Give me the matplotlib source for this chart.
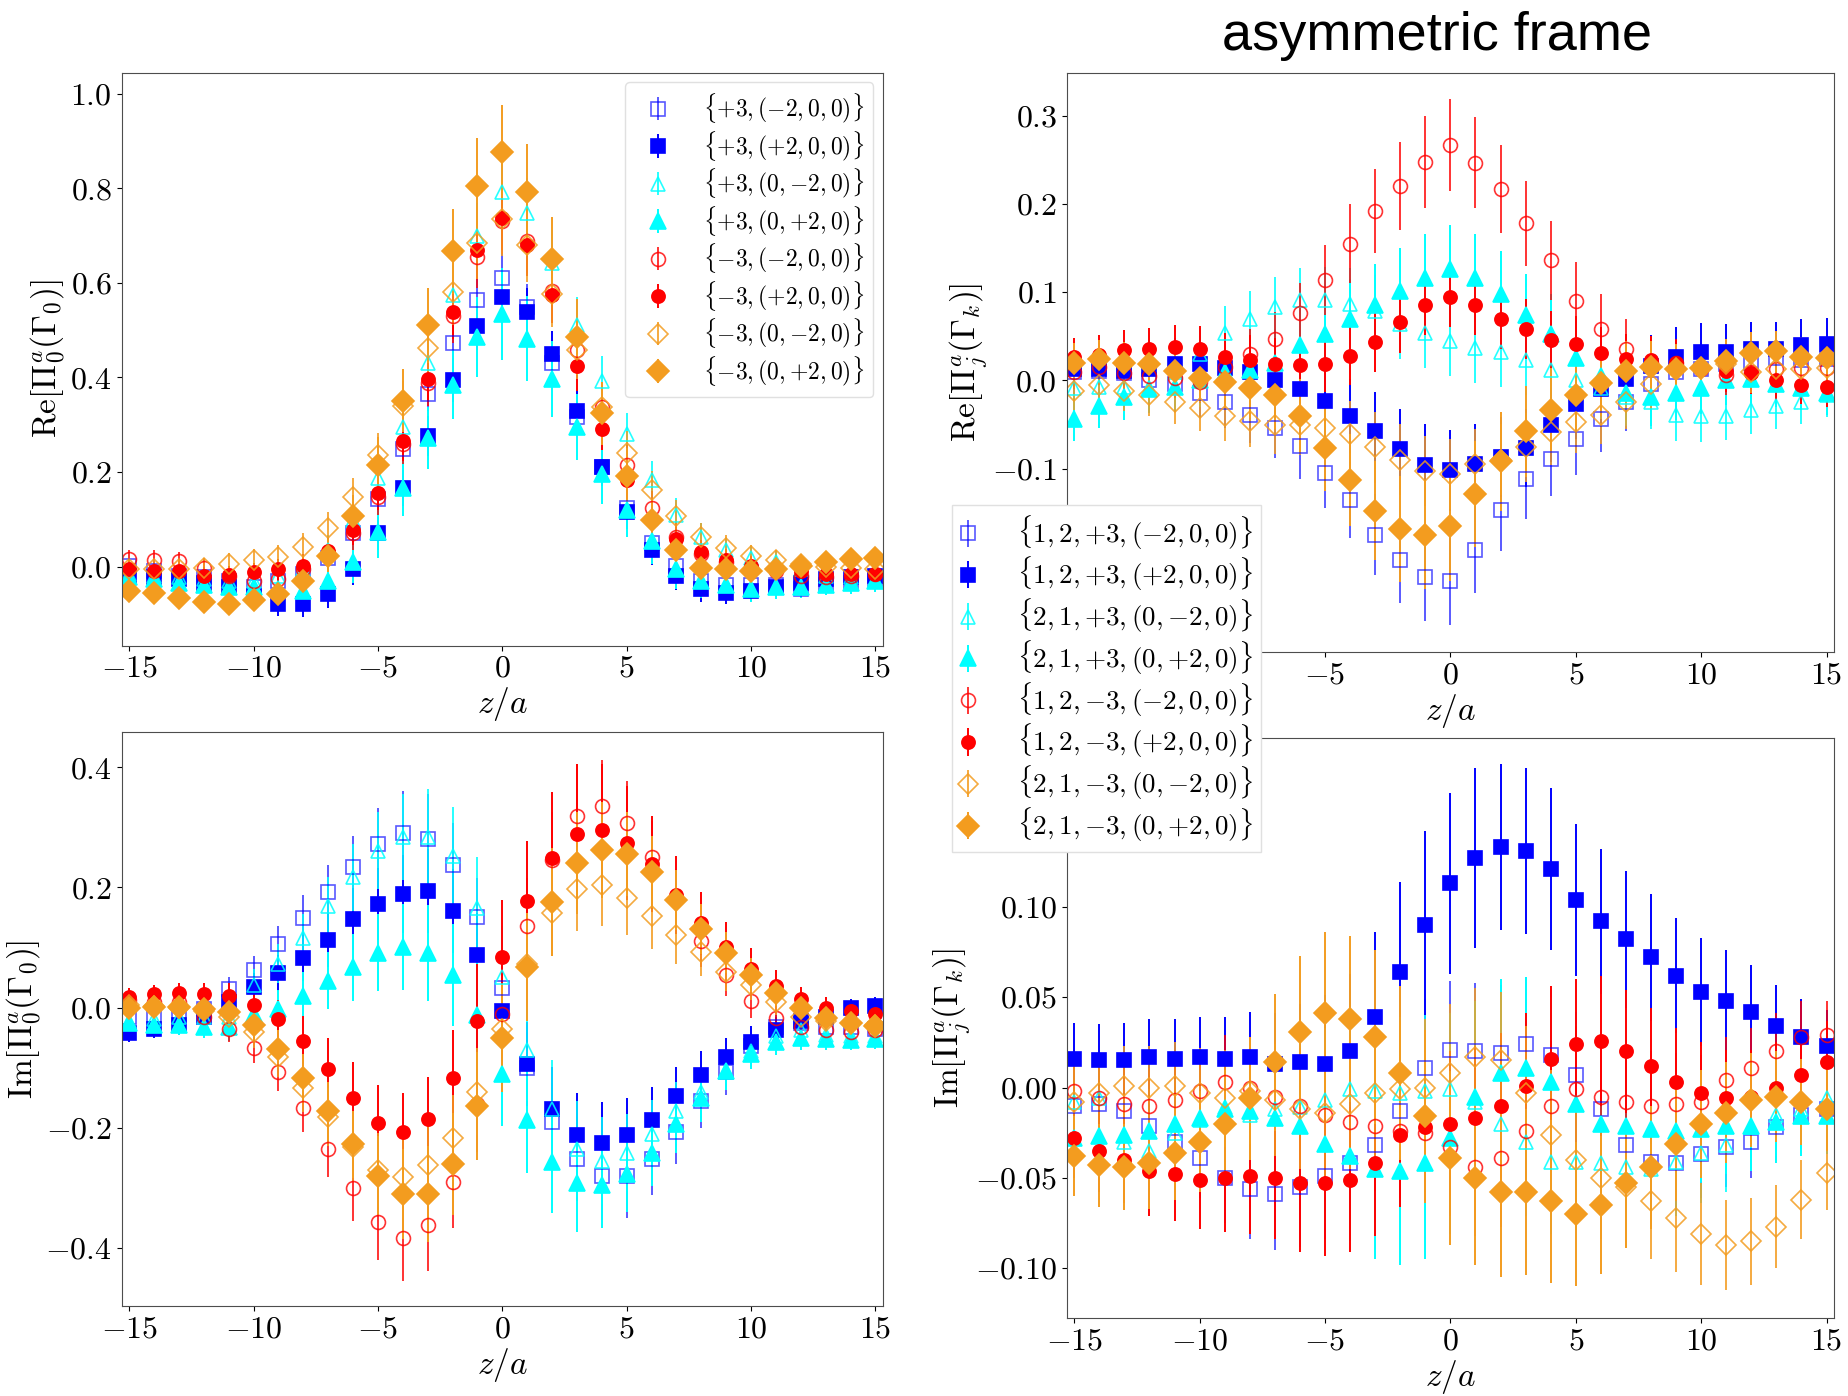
"""Four-panel quasi-PDF matrix element plot, symmetric vs asymmetric frame."""

import matplotlib
matplotlib.use("Agg")
import matplotlib.pyplot as plt
from matplotlib.ticker import MultipleLocator

plt.rcParams["font.family"] = "serif"
plt.rcParams["font.serif"] = ["cmr10"]
plt.rcParams["mathtext.fontset"] = "cm"
plt.rcParams["axes.formatter.use_mathtext"] = True

z = list(range(-15, 16))

labels_sym = [
    r"$\{{+}3,({-}2,0,0)\}$", r"$\{{+}3,({+}2,0,0)\}$",
    r"$\{{+}3,(0,{-}2,0)\}$", r"$\{{+}3,(0,{+}2,0)\}$",
    r"$\{{-}3,({-}2,0,0)\}$", r"$\{{-}3,({+}2,0,0)\}$",
    r"$\{{-}3,(0,{-}2,0)\}$", r"$\{{-}3,(0,{+}2,0)\}$",
]
labels_asym = [
    r"$\{1,2,{+}3,({-}2,0,0)\}$", r"$\{1,2,{+}3,({+}2,0,0)\}$",
    r"$\{2,1,{+}3,(0,{-}2,0)\}$", r"$\{2,1,{+}3,(0,{+}2,0)\}$",
    r"$\{1,2,{-}3,({-}2,0,0)\}$", r"$\{1,2,{-}3,({+}2,0,0)\}$",
    r"$\{2,1,{-}3,(0,{-}2,0)\}$", r"$\{2,1,{-}3,(0,{+}2,0)\}$",
]

# Re[Pi_0(Gamma_0)]  (top left)
re0_1 = [0.002, -0.010, -0.019, -0.023, -0.031, -0.043, -0.031, -0.015, 0.018, 0.070, 0.143, 0.248, 0.365, 0.472, 0.563, 0.611, 0.550, 0.430, 0.316, 0.211, 0.123, 0.050, 0.002, -0.031, -0.039, -0.039, -0.040, -0.047, -0.039, -0.035, -0.027]
re0_2 = [-0.019, -0.023, -0.027, -0.035, -0.043, -0.063, -0.079, -0.079, -0.057, -0.006, 0.070, 0.167, 0.276, 0.395, 0.508, 0.571, 0.538, 0.450, 0.330, 0.211, 0.116, 0.036, -0.019, -0.047, -0.055, -0.051, -0.043, -0.035, -0.027, -0.023, -0.019]
re0_3 = [-0.015, -0.019, -0.023, -0.027, -0.031, -0.031, -0.019, -0.006, 0.034, 0.098, 0.187, 0.296, 0.430, 0.575, 0.700, 0.793, 0.748, 0.643, 0.510, 0.393, 0.280, 0.183, 0.110, 0.062, 0.034, 0.018, 0.010, -0.006, -0.019, -0.023, -0.027]
re0_4 = [-0.023, -0.027, -0.035, -0.039, -0.043, -0.043, -0.047, -0.051, -0.031, 0.010, 0.074, 0.167, 0.272, 0.385, 0.486, 0.534, 0.482, 0.397, 0.296, 0.195, 0.119, 0.054, -0.006, -0.031, -0.039, -0.047, -0.043, -0.043, -0.039, -0.035, -0.031]
re0_5 = [0.015, 0.014, 0.011, -0.002, -0.019, -0.031, -0.027, -0.006, 0.026, 0.070, 0.147, 0.260, 0.389, 0.530, 0.655, 0.732, 0.688, 0.583, 0.458, 0.337, 0.215, 0.123, 0.062, 0.026, 0.010, -0.002, -0.010, -0.019, -0.023, -0.019, -0.015]
re0_6 = [-0.006, -0.009, -0.010, -0.019, -0.017, -0.012, -0.006, 0.002, 0.032, 0.078, 0.155, 0.266, 0.397, 0.538, 0.670, 0.738, 0.680, 0.575, 0.425, 0.292, 0.183, 0.098, 0.058, 0.030, 0.014, 0.002, -0.006, -0.010, -0.015, -0.015, -0.015]
re0_7 = [-0.006, -0.006, -0.006, -0.002, 0.006, 0.014, 0.020, 0.042, 0.082, 0.147, 0.236, 0.340, 0.462, 0.580, 0.685, 0.736, 0.680, 0.577, 0.458, 0.337, 0.240, 0.163, 0.107, 0.062, 0.040, 0.022, 0.014, 0.006, 0.000, -0.002, -0.006]
re0_8 = [-0.051, -0.055, -0.067, -0.075, -0.079, -0.071, -0.057, -0.031, 0.023, 0.107, 0.215, 0.351, 0.510, 0.667, 0.806, 0.877, 0.793, 0.650, 0.486, 0.324, 0.191, 0.098, 0.036, -0.002, -0.006, -0.009, -0.006, 0.002, 0.010, 0.015, 0.019]

re0_e1 = [0.015, 0.015, 0.015, 0.015, 0.016, 0.018, 0.020, 0.020, 0.022, 0.025, 0.028, 0.032, 0.036, 0.040, 0.045, 0.050, 0.048, 0.044, 0.040, 0.036, 0.032, 0.028, 0.025, 0.022, 0.020, 0.018, 0.017, 0.016, 0.015, 0.015, 0.015]
re0_e2 = [0.018, 0.018, 0.018, 0.018, 0.020, 0.022, 0.025, 0.028, 0.030, 0.032, 0.035, 0.038, 0.042, 0.046, 0.050, 0.055, 0.052, 0.048, 0.044, 0.040, 0.036, 0.032, 0.030, 0.028, 0.025, 0.022, 0.020, 0.020, 0.018, 0.018, 0.018]
re0_e3 = [0.020, 0.020, 0.020, 0.020, 0.020, 0.022, 0.025, 0.028, 0.032, 0.036, 0.040, 0.045, 0.052, 0.060, 0.070, 0.080, 0.075, 0.068, 0.060, 0.052, 0.045, 0.040, 0.035, 0.030, 0.027, 0.025, 0.022, 0.020, 0.020, 0.020, 0.020]
re0_e4 = [0.022, 0.022, 0.022, 0.024, 0.026, 0.028, 0.030, 0.035, 0.040, 0.045, 0.056, 0.060, 0.065, 0.073, 0.085, 0.097, 0.090, 0.080, 0.070, 0.062, 0.056, 0.048, 0.042, 0.036, 0.032, 0.028, 0.026, 0.024, 0.022, 0.022, 0.022]
re0_e5 = [0.020, 0.020, 0.020, 0.020, 0.020, 0.022, 0.024, 0.026, 0.030, 0.034, 0.038, 0.044, 0.050, 0.058, 0.065, 0.070, 0.068, 0.062, 0.055, 0.048, 0.042, 0.036, 0.032, 0.028, 0.025, 0.023, 0.022, 0.020, 0.020, 0.020, 0.020]
re0_e6 = [0.018, 0.018, 0.018, 0.018, 0.018, 0.020, 0.022, 0.025, 0.028, 0.032, 0.036, 0.042, 0.048, 0.056, 0.062, 0.068, 0.066, 0.060, 0.053, 0.046, 0.040, 0.034, 0.030, 0.026, 0.023, 0.021, 0.020, 0.018, 0.018, 0.018, 0.018]
re0_e7 = [0.020, 0.020, 0.020, 0.020, 0.022, 0.024, 0.026, 0.030, 0.034, 0.040, 0.046, 0.052, 0.060, 0.068, 0.076, 0.080, 0.078, 0.070, 0.062, 0.054, 0.046, 0.040, 0.034, 0.030, 0.026, 0.024, 0.022, 0.020, 0.020, 0.020, 0.020]
re0_e8 = [0.020, 0.020, 0.020, 0.020, 0.022, 0.024, 0.026, 0.030, 0.035, 0.045, 0.060, 0.066, 0.080, 0.090, 0.100, 0.100, 0.100, 0.090, 0.080, 0.066, 0.060, 0.045, 0.035, 0.030, 0.026, 0.024, 0.022, 0.020, 0.020, 0.020, 0.020]

# Re[Pi_j(Gamma_k)]  (top right)
rej_1 = [0.010, 0.011, 0.008, 0.000, -0.004, -0.014, -0.024, -0.039, -0.054, -0.075, -0.105, -0.136, -0.175, -0.204, -0.223, -0.227, -0.192, -0.147, -0.112, -0.089, -0.067, -0.044, -0.024, -0.004, 0.010, 0.013, 0.018, 0.020, 0.025, 0.023, 0.024]
rej_2 = [0.013, 0.013, 0.011, 0.013, 0.018, 0.019, 0.014, 0.010, 0.000, -0.010, -0.023, -0.040, -0.057, -0.078, -0.096, -0.102, -0.095, -0.087, -0.077, -0.051, -0.027, -0.010, 0.001, 0.016, 0.027, 0.032, 0.032, 0.035, 0.036, 0.040, 0.041]
rej_3 = [-0.009, -0.007, -0.008, -0.009, 0.010, 0.030, 0.054, 0.069, 0.083, 0.091, 0.091, 0.087, 0.079, 0.064, 0.054, 0.045, 0.037, 0.032, 0.023, 0.012, 0.000, -0.009, -0.019, -0.024, -0.039, -0.041, -0.040, -0.034, -0.029, -0.024, -0.017]
rej_4 = [-0.044, -0.029, -0.019, -0.010, -0.008, 0.000, 0.010, 0.012, 0.020, 0.040, 0.053, 0.070, 0.085, 0.101, 0.116, 0.126, 0.116, 0.098, 0.074, 0.053, 0.025, 0.005, -0.014, -0.019, -0.014, -0.009, 0.000, 0.001, -0.004, -0.009, -0.014]
rej_5 = [0.010, 0.015, 0.008, 0.005, 0.003, -0.002, 0.015, 0.030, 0.047, 0.076, 0.114, 0.155, 0.192, 0.220, 0.248, 0.267, 0.247, 0.217, 0.178, 0.136, 0.090, 0.058, 0.036, 0.020, 0.020, 0.013, 0.006, 0.010, 0.013, 0.014, 0.014]
rej_6 = [0.026, 0.029, 0.034, 0.035, 0.038, 0.036, 0.027, 0.023, 0.019, 0.017, 0.019, 0.028, 0.044, 0.066, 0.086, 0.095, 0.086, 0.070, 0.058, 0.046, 0.041, 0.031, 0.024, 0.023, 0.020, 0.014, 0.011, 0.008, 0.000, -0.005, -0.008]
rej_7 = [-0.012, -0.005, -0.012, -0.017, -0.024, -0.031, -0.041, -0.046, -0.051, -0.051, -0.054, -0.061, -0.076, -0.090, -0.103, -0.106, -0.095, -0.090, -0.076, -0.059, -0.047, -0.039, -0.024, -0.004, 0.013, 0.014, 0.018, 0.010, 0.013, 0.013, 0.014]
rej_8 = [0.020, 0.024, 0.020, 0.018, 0.011, 0.003, -0.002, -0.009, -0.017, -0.041, -0.077, -0.113, -0.148, -0.169, -0.175, -0.165, -0.129, -0.092, -0.058, -0.034, -0.017, -0.003, 0.011, 0.015, 0.013, 0.014, 0.022, 0.031, 0.033, 0.027, 0.025]

rej_e1 = [0.025, 0.025, 0.025, 0.026, 0.027, 0.028, 0.030, 0.032, 0.034, 0.037, 0.040, 0.043, 0.046, 0.048, 0.050, 0.050, 0.049, 0.047, 0.045, 0.042, 0.040, 0.037, 0.034, 0.032, 0.030, 0.029, 0.028, 0.027, 0.026, 0.025, 0.025]
rej_e2 = [0.028, 0.028, 0.028, 0.029, 0.030, 0.031, 0.032, 0.034, 0.036, 0.038, 0.040, 0.042, 0.044, 0.045, 0.046, 0.046, 0.046, 0.045, 0.044, 0.042, 0.040, 0.038, 0.036, 0.035, 0.034, 0.033, 0.032, 0.031, 0.030, 0.030, 0.030]
rej_e3 = [0.025, 0.025, 0.026, 0.027, 0.028, 0.029, 0.030, 0.032, 0.034, 0.036, 0.038, 0.040, 0.040, 0.040, 0.040, 0.040, 0.040, 0.040, 0.040, 0.039, 0.037, 0.035, 0.033, 0.031, 0.030, 0.029, 0.028, 0.027, 0.026, 0.025, 0.025]
rej_e4 = [0.025, 0.025, 0.026, 0.027, 0.028, 0.030, 0.032, 0.035, 0.038, 0.040, 0.043, 0.045, 0.047, 0.049, 0.050, 0.050, 0.050, 0.049, 0.047, 0.045, 0.042, 0.039, 0.036, 0.033, 0.031, 0.029, 0.028, 0.027, 0.026, 0.025, 0.025]
rej_e5 = [0.020, 0.020, 0.021, 0.022, 0.023, 0.024, 0.026, 0.028, 0.031, 0.034, 0.040, 0.045, 0.048, 0.050, 0.052, 0.052, 0.052, 0.050, 0.048, 0.045, 0.044, 0.040, 0.034, 0.030, 0.027, 0.025, 0.023, 0.022, 0.021, 0.020, 0.020]
rej_e6 = [0.022, 0.022, 0.023, 0.024, 0.025, 0.026, 0.027, 0.028, 0.029, 0.030, 0.032, 0.033, 0.034, 0.035, 0.035, 0.035, 0.035, 0.035, 0.034, 0.033, 0.032, 0.030, 0.028, 0.027, 0.026, 0.025, 0.024, 0.023, 0.022, 0.022, 0.022]
rej_e7 = [0.022, 0.022, 0.023, 0.024, 0.025, 0.026, 0.028, 0.030, 0.032, 0.034, 0.036, 0.038, 0.040, 0.040, 0.040, 0.040, 0.040, 0.040, 0.039, 0.037, 0.035, 0.033, 0.031, 0.029, 0.027, 0.026, 0.025, 0.024, 0.023, 0.022, 0.022]
rej_e8 = [0.022, 0.022, 0.023, 0.024, 0.025, 0.027, 0.030, 0.034, 0.038, 0.043, 0.048, 0.052, 0.056, 0.060, 0.062, 0.062, 0.060, 0.056, 0.052, 0.048, 0.043, 0.038, 0.034, 0.030, 0.028, 0.026, 0.025, 0.024, 0.023, 0.022, 0.022]

# Im[Pi_0(Gamma_0)]  (bottom left)
im0_1 = [-0.016, -0.013, -0.011, -0.003, 0.031, 0.062, 0.105, 0.149, 0.193, 0.234, 0.272, 0.291, 0.281, 0.237, 0.150, 0.033, -0.100, -0.190, -0.252, -0.280, -0.280, -0.252, -0.208, -0.156, -0.108, -0.064, -0.032, -0.026, -0.032, -0.033, -0.035]
im0_2 = [-0.043, -0.035, -0.029, -0.016, 0.010, 0.034, 0.057, 0.082, 0.112, 0.147, 0.172, 0.189, 0.194, 0.161, 0.088, -0.005, -0.094, -0.169, -0.212, -0.226, -0.212, -0.187, -0.147, -0.113, -0.083, -0.057, -0.038, -0.022, -0.016, -0.001, 0.003]
im0_3 = [-0.022, -0.019, -0.016, -0.016, -0.016, 0.038, 0.073, 0.116, 0.169, 0.217, 0.261, 0.284, 0.284, 0.252, 0.166, 0.051, -0.070, -0.169, -0.236, -0.255, -0.242, -0.210, -0.172, -0.140, -0.105, -0.073, -0.048, -0.038, -0.045, -0.048, -0.048]
im0_4 = [-0.026, -0.029, -0.029, -0.032, -0.033, -0.010, -0.003, 0.019, 0.045, 0.067, 0.091, 0.101, 0.091, 0.054, -0.013, -0.110, -0.188, -0.258, -0.293, -0.296, -0.277, -0.242, -0.194, -0.150, -0.105, -0.077, -0.057, -0.051, -0.053, -0.054, -0.053]
im0_5 = [0.013, 0.010, 0.010, -0.016, -0.035, -0.067, -0.107, -0.167, -0.235, -0.300, -0.357, -0.383, -0.363, -0.290, -0.160, -0.011, 0.135, 0.245, 0.319, 0.336, 0.307, 0.250, 0.180, 0.110, 0.054, 0.011, -0.018, -0.032, -0.038, -0.041, -0.038]
im0_6 = [0.017, 0.022, 0.024, 0.022, 0.019, 0.005, -0.019, -0.056, -0.102, -0.150, -0.193, -0.207, -0.186, -0.118, -0.022, 0.084, 0.177, 0.249, 0.289, 0.295, 0.274, 0.239, 0.188, 0.140, 0.100, 0.065, 0.036, 0.014, 0.000, -0.006, -0.010]
im0_7 = [0.005, 0.003, 0.000, -0.006, -0.016, -0.041, -0.083, -0.134, -0.182, -0.233, -0.271, -0.282, -0.263, -0.218, -0.140, -0.035, 0.073, 0.157, 0.198, 0.204, 0.183, 0.153, 0.121, 0.092, 0.059, 0.038, 0.010, -0.016, -0.022, -0.026, -0.029]
im0_8 = [0.000, 0.001, 0.001, -0.003, -0.008, -0.029, -0.069, -0.118, -0.172, -0.228, -0.280, -0.311, -0.311, -0.261, -0.164, -0.051, 0.067, 0.175, 0.240, 0.263, 0.255, 0.226, 0.179, 0.131, 0.091, 0.054, 0.024, -0.001, -0.018, -0.026, -0.031]

im0_e1 = [0.015, 0.015, 0.016, 0.018, 0.020, 0.024, 0.030, 0.038, 0.045, 0.052, 0.060, 0.070, 0.074, 0.070, 0.065, 0.060, 0.060, 0.065, 0.070, 0.074, 0.070, 0.060, 0.052, 0.045, 0.038, 0.030, 0.024, 0.020, 0.018, 0.016, 0.015]
im0_e2 = [0.015, 0.015, 0.016, 0.018, 0.020, 0.024, 0.030, 0.038, 0.045, 0.052, 0.060, 0.065, 0.070, 0.070, 0.070, 0.070, 0.070, 0.070, 0.070, 0.068, 0.062, 0.055, 0.048, 0.040, 0.032, 0.026, 0.022, 0.020, 0.018, 0.016, 0.015]
im0_e3 = [0.016, 0.016, 0.017, 0.019, 0.022, 0.026, 0.032, 0.040, 0.048, 0.056, 0.064, 0.072, 0.080, 0.082, 0.085, 0.085, 0.085, 0.082, 0.080, 0.072, 0.064, 0.056, 0.048, 0.040, 0.032, 0.026, 0.022, 0.019, 0.017, 0.016, 0.016]
im0_e4 = [0.016, 0.016, 0.017, 0.019, 0.022, 0.026, 0.032, 0.040, 0.048, 0.056, 0.064, 0.072, 0.080, 0.085, 0.088, 0.088, 0.088, 0.085, 0.080, 0.072, 0.064, 0.056, 0.048, 0.040, 0.032, 0.026, 0.022, 0.019, 0.017, 0.016, 0.016]
im0_e5 = [0.016, 0.016, 0.017, 0.019, 0.022, 0.026, 0.032, 0.040, 0.048, 0.056, 0.064, 0.072, 0.075, 0.078, 0.080, 0.080, 0.080, 0.080, 0.086, 0.077, 0.070, 0.060, 0.050, 0.042, 0.034, 0.028, 0.022, 0.019, 0.017, 0.016, 0.016]
im0_e6 = [0.016, 0.016, 0.017, 0.019, 0.022, 0.026, 0.032, 0.042, 0.052, 0.060, 0.064, 0.064, 0.070, 0.080, 0.095, 0.095, 0.100, 0.110, 0.116, 0.110, 0.095, 0.080, 0.065, 0.052, 0.042, 0.034, 0.026, 0.020, 0.018, 0.016, 0.016]
im0_e7 = [0.016, 0.016, 0.017, 0.019, 0.022, 0.026, 0.032, 0.040, 0.048, 0.056, 0.062, 0.068, 0.070, 0.072, 0.072, 0.072, 0.072, 0.072, 0.070, 0.068, 0.062, 0.056, 0.048, 0.040, 0.032, 0.026, 0.022, 0.019, 0.017, 0.016, 0.016]
im0_e8 = [0.016, 0.016, 0.017, 0.019, 0.022, 0.026, 0.032, 0.040, 0.048, 0.056, 0.066, 0.075, 0.080, 0.085, 0.090, 0.090, 0.090, 0.090, 0.085, 0.080, 0.070, 0.060, 0.050, 0.042, 0.034, 0.028, 0.022, 0.019, 0.017, 0.016, 0.016]

# Im[Pi_j(Gamma_k)]  (bottom right)
imj_1 = [-0.010, -0.009, -0.013, -0.021, -0.030, -0.039, -0.050, -0.056, -0.059, -0.055, -0.049, -0.042, -0.032, -0.013, 0.011, 0.021, 0.020, 0.019, 0.024, 0.018, 0.007, -0.012, -0.032, -0.041, -0.042, -0.037, -0.033, -0.030, -0.022, -0.015, -0.012]
imj_2 = [0.016, 0.015, 0.015, 0.017, 0.016, 0.017, 0.016, 0.017, 0.013, 0.014, 0.013, 0.020, 0.039, 0.064, 0.090, 0.113, 0.127, 0.133, 0.131, 0.121, 0.104, 0.092, 0.082, 0.072, 0.062, 0.053, 0.048, 0.042, 0.034, 0.028, 0.023]
imj_3 = [-0.008, -0.006, -0.030, -0.035, -0.025, -0.018, -0.011, -0.015, -0.012, -0.011, -0.007, -0.001, -0.002, -0.003, -0.002, -0.001, -0.008, -0.020, -0.030, -0.041, -0.041, -0.042, -0.044, -0.045, -0.041, -0.036, -0.032, -0.022, -0.015, -0.012, -0.006]
imj_4 = [-0.028, -0.027, -0.026, -0.024, -0.020, -0.017, -0.012, -0.013, -0.017, -0.021, -0.031, -0.038, -0.045, -0.046, -0.042, -0.028, -0.005, 0.008, 0.011, 0.003, -0.009, -0.020, -0.021, -0.023, -0.024, -0.023, -0.021, -0.021, -0.019, -0.016, -0.016]
imj_5 = [-0.002, -0.006, -0.009, -0.010, -0.007, -0.002, 0.003, 0.000, -0.005, -0.010, -0.015, -0.019, -0.021, -0.024, -0.025, -0.033, -0.044, -0.039, -0.024, -0.010, -0.001, -0.005, -0.008, -0.010, -0.009, -0.008, 0.004, 0.011, 0.020, 0.028, 0.029]
imj_6 = [-0.028, -0.035, -0.040, -0.046, -0.048, -0.051, -0.050, -0.049, -0.050, -0.053, -0.053, -0.051, -0.042, -0.026, -0.022, -0.020, -0.017, -0.010, 0.001, 0.016, 0.024, 0.026, 0.020, 0.012, 0.003, -0.003, -0.006, -0.005, 0.000, 0.007, 0.014]
imj_7 = [-0.008, -0.003, 0.001, 0.000, 0.001, -0.003, -0.006, -0.002, -0.007, -0.012, -0.014, -0.009, -0.003, -0.001, 0.000, 0.008, 0.017, 0.015, -0.003, -0.026, -0.040, -0.050, -0.055, -0.063, -0.072, -0.081, -0.087, -0.085, -0.077, -0.062, -0.047]
imj_8 = [-0.038, -0.043, -0.044, -0.042, -0.036, -0.030, -0.020, -0.006, 0.014, 0.031, 0.041, 0.038, 0.028, 0.008, -0.016, -0.039, -0.050, -0.058, -0.058, -0.063, -0.070, -0.065, -0.053, -0.044, -0.031, -0.020, -0.014, -0.007, -0.005, -0.008, -0.012]

imj_e1 = [0.015, 0.016, 0.017, 0.018, 0.020, 0.022, 0.025, 0.028, 0.031, 0.033, 0.035, 0.036, 0.037, 0.038, 0.038, 0.038, 0.038, 0.038, 0.037, 0.036, 0.035, 0.033, 0.031, 0.028, 0.026, 0.024, 0.022, 0.020, 0.018, 0.016, 0.015]
imj_e2 = [0.020, 0.020, 0.021, 0.021, 0.022, 0.022, 0.023, 0.025, 0.028, 0.032, 0.038, 0.043, 0.047, 0.050, 0.052, 0.050, 0.050, 0.046, 0.046, 0.045, 0.042, 0.040, 0.038, 0.035, 0.032, 0.030, 0.028, 0.026, 0.023, 0.021, 0.020]
imj_e3 = [0.020, 0.021, 0.022, 0.023, 0.025, 0.027, 0.030, 0.033, 0.036, 0.038, 0.040, 0.041, 0.042, 0.042, 0.042, 0.042, 0.042, 0.042, 0.041, 0.040, 0.038, 0.036, 0.034, 0.032, 0.030, 0.028, 0.026, 0.024, 0.023, 0.022, 0.021]
imj_e4 = [0.020, 0.021, 0.022, 0.023, 0.025, 0.027, 0.030, 0.033, 0.036, 0.040, 0.044, 0.047, 0.050, 0.052, 0.053, 0.053, 0.053, 0.052, 0.050, 0.047, 0.044, 0.040, 0.037, 0.034, 0.031, 0.029, 0.027, 0.025, 0.023, 0.022, 0.021]
imj_e5 = [0.018, 0.019, 0.020, 0.021, 0.022, 0.024, 0.026, 0.028, 0.030, 0.032, 0.034, 0.035, 0.036, 0.037, 0.038, 0.038, 0.038, 0.038, 0.037, 0.036, 0.035, 0.034, 0.032, 0.030, 0.028, 0.026, 0.024, 0.022, 0.021, 0.020, 0.019]
imj_e6 = [0.022, 0.023, 0.024, 0.025, 0.026, 0.027, 0.030, 0.032, 0.034, 0.038, 0.040, 0.040, 0.040, 0.040, 0.040, 0.040, 0.040, 0.040, 0.040, 0.040, 0.036, 0.036, 0.034, 0.032, 0.030, 0.028, 0.027, 0.026, 0.025, 0.024, 0.023]
imj_e7 = [0.020, 0.021, 0.022, 0.023, 0.024, 0.025, 0.027, 0.029, 0.031, 0.033, 0.035, 0.036, 0.037, 0.038, 0.038, 0.038, 0.038, 0.038, 0.037, 0.036, 0.035, 0.034, 0.033, 0.032, 0.030, 0.028, 0.025, 0.024, 0.023, 0.022, 0.021]
imj_e8 = [0.022, 0.023, 0.024, 0.025, 0.026, 0.028, 0.030, 0.034, 0.038, 0.042, 0.045, 0.046, 0.048, 0.048, 0.048, 0.048, 0.048, 0.047, 0.046, 0.045, 0.040, 0.038, 0.036, 0.034, 0.032, 0.030, 0.028, 0.026, 0.025, 0.024, 0.023]

ORANGE = "#f39c1f"
STYLES = [
    dict(color="blue", marker="s", mfc="none", ms=10, alpha=0.65),
    dict(color="blue", marker="s", mfc="blue", ms=10.5),
    dict(color="cyan", marker="^", mfc="none", ms=10.5, alpha=0.85),
    dict(color="cyan", marker="^", mfc="cyan", ms=11),
    dict(color="red", marker="o", mfc="none", ms=10, alpha=0.8),
    dict(color="red", marker="o", mfc="red", ms=9.5),
    dict(color=ORANGE, marker="D", mfc="none", ms=10, alpha=0.85),
    dict(color=ORANGE, marker="D", mfc=ORANGE, ms=11),
]


def draw_panel(ax, values, errors, labels=None):
    handles = []
    for i, (y, e) in enumerate(zip(values, errors)):
        st = STYLES[i]
        h = ax.errorbar(
            z, y, yerr=e, fmt=st["marker"], linestyle="none",
            color=st["color"], mec=st["color"], mfc=st["mfc"], ms=st["ms"],
            mew=1.2, elinewidth=1.4, capsize=0, alpha=st.get("alpha", 1.0),
            label=None if labels is None else labels[i],
        )
        handles.append(h)
    ax.set_xlim(-15.3, 15.3)
    ax.set_xticks([-15, -10, -5, 0, 5, 10, 15])
    ax.set_xlabel(r"$z/a$", fontsize=24, labelpad=2)
    ax.tick_params(labelsize=23)
    for sp in ax.spines.values():
        sp.set_color("0.3")
    return handles


def hide_tick_labels(axis, idx):
    # labels that sit under the shared legend box
    for k, tick in enumerate(axis.get_major_ticks()):
        if k in idx:
            tick.label1.set_visible(False)


fig = plt.figure(figsize=(18.49, 13.96), dpi=100)
ax_tl = fig.add_axes([0.0658, 0.5376, 0.4117, 0.4104])
ax_tr = fig.add_axes([0.5769, 0.5330, 0.4150, 0.4150])
ax_bl = fig.add_axes([0.0658, 0.0645, 0.4117, 0.4112])
ax_br = fig.add_axes([0.5769, 0.0559, 0.4150, 0.4155])

draw_panel(ax_tl, [re0_1, re0_2, re0_3, re0_4, re0_5, re0_6, re0_7, re0_8],
           [re0_e1, re0_e2, re0_e3, re0_e4, re0_e5, re0_e6, re0_e7, re0_e8], labels_sym)
h_asym = draw_panel(ax_tr, [rej_1, rej_2, rej_3, rej_4, rej_5, rej_6, rej_7, rej_8],
                    [rej_e1, rej_e2, rej_e3, rej_e4, rej_e5, rej_e6, rej_e7, rej_e8])
draw_panel(ax_bl, [im0_1, im0_2, im0_3, im0_4, im0_5, im0_6, im0_7, im0_8],
           [im0_e1, im0_e2, im0_e3, im0_e4, im0_e5, im0_e6, im0_e7, im0_e8])
draw_panel(ax_br, [imj_1, imj_2, imj_3, imj_4, imj_5, imj_6, imj_7, imj_8],
           [imj_e1, imj_e2, imj_e3, imj_e4, imj_e5, imj_e6, imj_e7, imj_e8])

ax_tl.set_ylim(-0.167, 1.045)
ax_tl.yaxis.set_major_locator(MultipleLocator(0.2))
ax_tl.set_ylabel(r"$\mathrm{Re}[\Pi^a_0(\Gamma_0)]$", fontsize=24, labelpad=2)

ax_tr.set_ylim(-0.308, 0.349)
ax_tr.set_yticks([-0.3, -0.2, -0.1, 0.0, 0.1, 0.2, 0.3])
ax_tr.set_ylabel(r"$\mathrm{Re}[\Pi^a_j(\Gamma_k)]$", fontsize=24, labelpad=2)
hide_tick_labels(ax_tr.yaxis, {0, 1})
hide_tick_labels(ax_tr.xaxis, {0, 1})

ax_bl.set_ylim(-0.497, 0.459)
ax_bl.yaxis.set_major_locator(MultipleLocator(0.2))
ax_bl.set_ylabel(r"$\mathrm{Im}[\Pi^a_0(\Gamma_0)]$", fontsize=24, labelpad=2)

ax_br.set_ylim(-0.1275, 0.1935)
ax_br.set_yticks([-0.10, -0.05, 0.0, 0.05, 0.10, 0.15])
ax_br.set_ylabel(r"$\mathrm{Im}[\Pi^a_j(\Gamma_k)]$", fontsize=24, labelpad=2)
hide_tick_labels(ax_br.yaxis, {5})

ax_tl.legend(loc="upper right", fontsize=17, labelspacing=0.15, borderaxespad=0.4,
             handlelength=2.0, handletextpad=0.9, framealpha=1.0, edgecolor="0.88")

fig.legend(h_asym, labels_asym, loc="upper left", bbox_to_anchor=(0.5149, 0.6383),
           borderaxespad=0.0, fontsize=19.5, labelspacing=0.12, borderpad=0.3,
           handlelength=0.6, handletextpad=1.5, fancybox=False, framealpha=1.0,
           edgecolor="0.88")

fig.text(0.777, 0.9642, "asymmetric frame", family="Liberation Sans", fontsize=39,
         ha="center", va="baseline")

fig.savefig("out.png", dpi=100)
